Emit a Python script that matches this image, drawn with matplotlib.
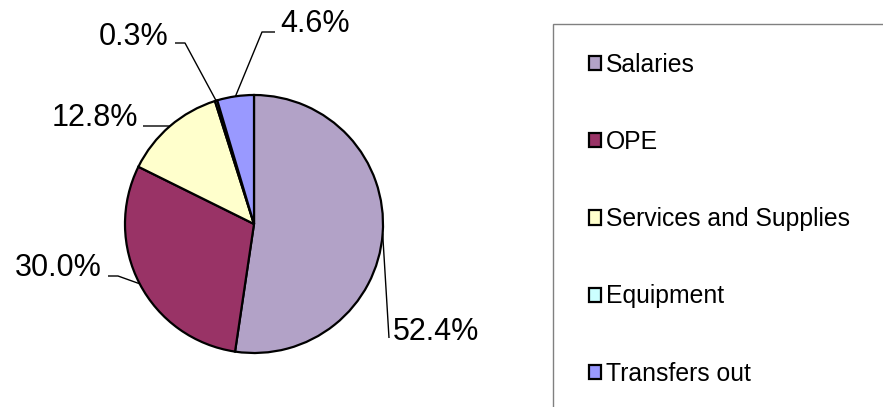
import numpy as np
import matplotlib
matplotlib.use("Agg")
import matplotlib.pyplot as plt
from matplotlib.patches import Rectangle

plt.rcParams['font.family'] = ['Liberation Sans', 'DejaVu Sans']

# data
categories = ['Salaries', 'OPE', 'Services and Supplies', 'Equipment', 'Transfers out']
shares = [52.4, 30.0, 12.8, 0.3, 4.6]
colors = ['#B2A2C7', '#993366', '#FFFFCC', '#CCFFFF', '#9999FF']

W, H = 883, 407

# label layout in image pixels: (text x, baseline y, ha, elbow, end of horizontal)
label_layout = [
    (393, 340, 'left', (389, 338), None),
    (102, 276, 'right', (118, 276), (108, 276)),
    (138, 126, 'right', (167, 126), (143, 126)),
    (168, 45, 'right', (185, 43), (175, 43)),
    (280, 32, 'left', (262, 32), (275, 32)),
]


def px(x, y):
    # image pixel -> data coords (y up)
    return x, H - y


fig = plt.figure(figsize=(W / 100, H / 100), dpi=100)
ax = fig.add_axes([0, 0, 1, 1])

cx, cy = px(254, 224)
radius = 129
wedges, _ = ax.pie(shares, colors=colors, startangle=90, counterclock=False,
                   center=(cx, cy), radius=radius, frame=True,
                   wedgeprops=dict(edgecolor='black', linewidth=1.6))
ax.set_xlim(0, W)
ax.set_ylim(0, H)
ax.set_aspect('equal')
ax.axis('off')

# data labels with leader lines
for w, val, (tx, ty, ha, elbow, end) in zip(wedges, shares, label_layout):
    mid = np.radians((w.theta1 + w.theta2) / 2)
    ex, ey = cx + radius * np.cos(mid), cy + radius * np.sin(mid)
    xs, ys = [ex], [ey]
    bx, by = px(*elbow)
    xs.append(bx)
    ys.append(by)
    if end is not None:
        hx, hy = px(*end)
        xs.append(hx)
        ys.append(hy)
    ax.plot(xs, ys, color='black', lw=1.0, solid_capstyle='butt')
    ax.text(*px(tx, ty), '{:.1f}%'.format(val), ha=ha, va='baseline',
            fontsize=22, color='black')

# legend box runs off the right and bottom of the picture
ax.add_patch(Rectangle(px(553, H + 10), 400, H + 10 - 24, facecolor='none',
                       edgecolor='#808080', lw=1.0))

leg = ax.legend(wedges, categories, loc='upper left',
                bbox_to_anchor=px(589, 53), bbox_transform=ax.transData,
                frameon=False, fontsize=17.8, handlelength=0.5,
                handleheight=0.5, handletextpad=0.2, labelspacing=2.15,
                borderpad=0, borderaxespad=0)
for h in leg.legend_handles:
    h.set_linewidth(1.6)

fig.savefig('out.png', dpi=100)
